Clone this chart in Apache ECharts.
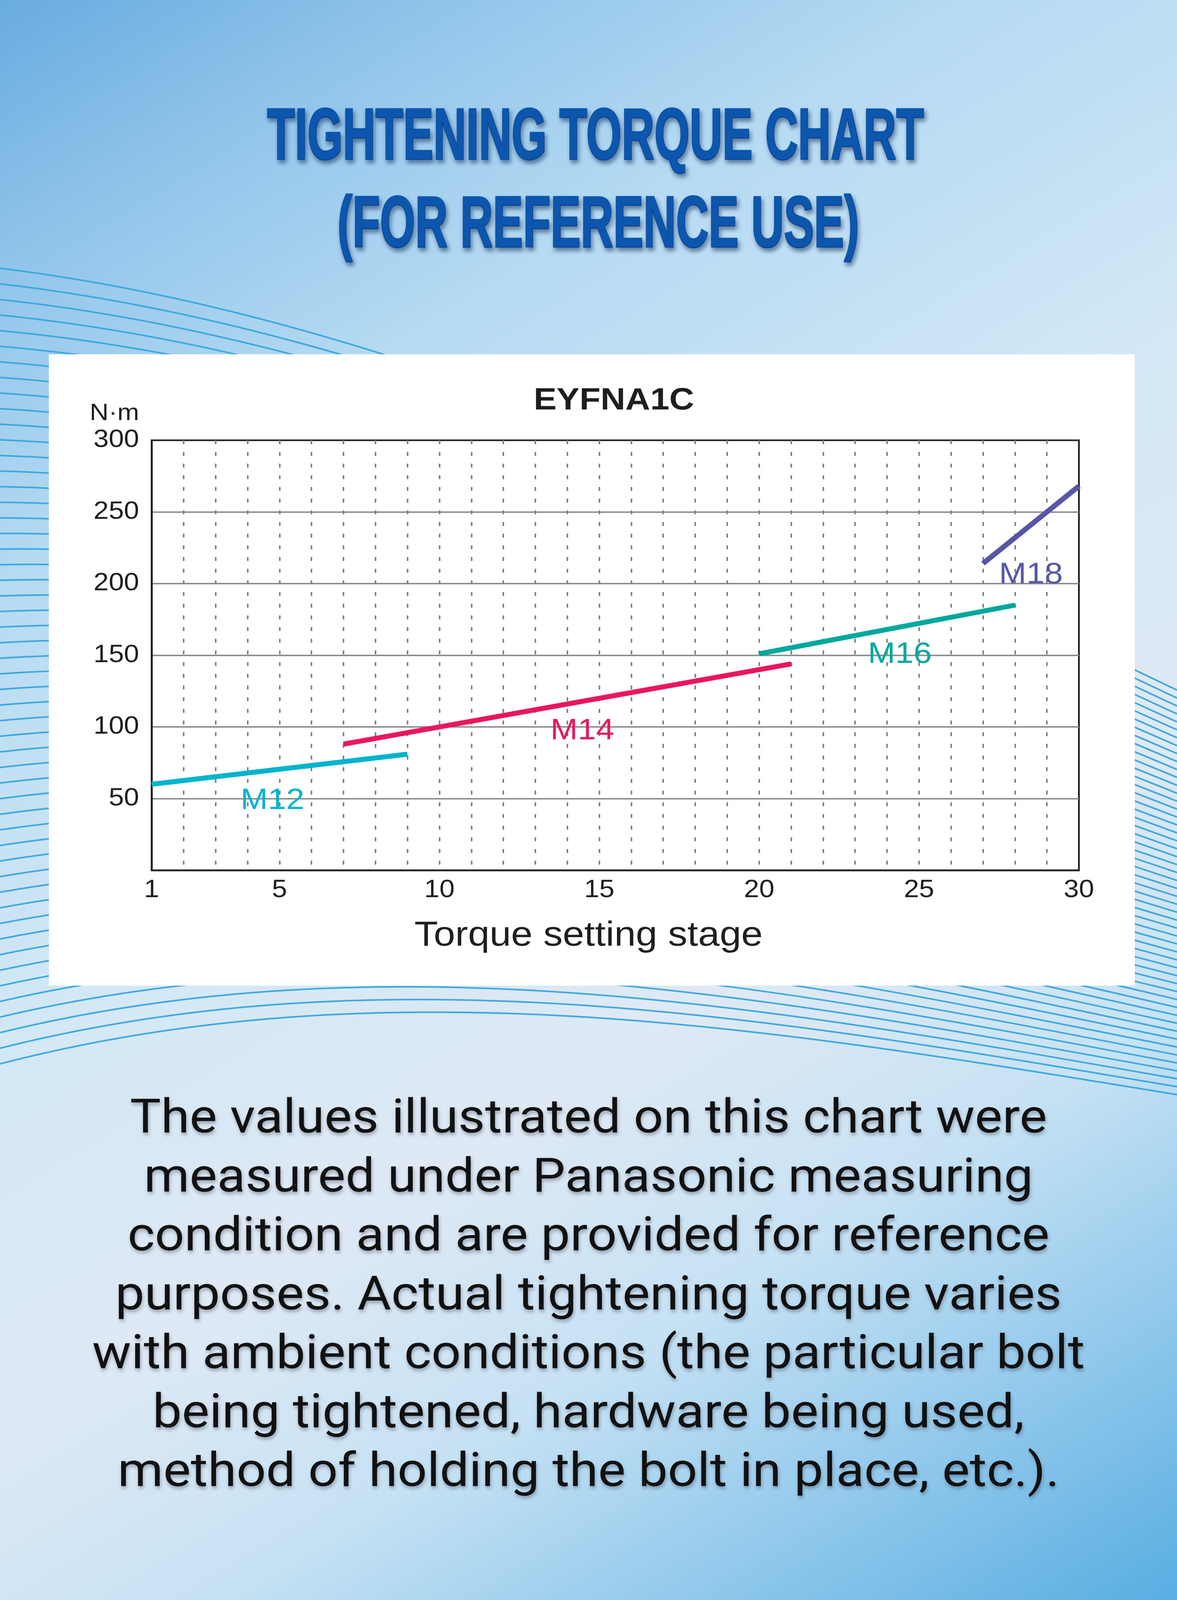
<!DOCTYPE html>
<html><head><meta charset="utf-8">
<script src="https://cdn.jsdelivr.net/npm/echarts@6/dist/echarts.min.js"></script>
<style>html,body{margin:0;padding:0;background:#fff;overflow:hidden;}#c{width:3012px;height:4521px;transform-origin:0 0;}</style>
</head><body><div id="c"></div>
<script>
// ---------- data ----------
const chartTitle = 'EYFNA1C';
const stageTickLabels = [1, 5, 10, 15, 20, 25, 30];
const torqueTickLabels = [50, 100, 150, 200, 250, 300];
const boltSizes = ['M12', 'M14', 'M16', 'M18'];
const m12 = [[1, 60], [9, 81]];
const m14 = [[7, 88], [21, 144]];
const m16 = [[20, 151], [28, 185]];
const m18 = [[27, 214], [30, 268]];
const labelAnchors = [[4.78, 48.4], [14.47, 97], [24.4, 150.4], [28.5, 206]];
const headline = ['TIGHTENING TORQUE CHART', '(FOR REFERENCE USE)'];
const note = [
  'The values illustrated on this chart were',
  'measured under Panasonic measuring',
  'condition and are provided for reference',
  'purposes. Actual tightening torque varies',
  'with ambient conditions (the particular bolt',
  'being tightened, hardware being used,',
  'method of holding the bolt in place, etc.).'
];

// ---------- styling ----------
const W = 3012, H = 4521;
// fit the whole 3012x4521 design into the real viewport
const box = document.getElementById('c');
const fx = (window.innerWidth || W) / W, fy = (window.innerHeight || H) / H;
if (Math.abs(fx - 1) > 0.001 || Math.abs(fy - 1) > 0.001) box.style.transform = 'scale(' + fx + ',' + fy + ')';

const colors = ['#00B4CC', '#E8175D', '#00A89C', '#5756A6'];
const seriesData = [m12, m14, m16, m18];
const AX = '"Liberation Sans", Arial, Helvetica, sans-serif';

const cv = document.createElement('canvas').getContext('2d');
function measure(txt, font) { cv.font = font; return cv.measureText(txt).width; }

const headFont = '"Liberation Sans Narrow", "Arial Narrow", "Liberation Sans", sans-serif';
const headSize = 204;
const w1 = measure(headline[0], 'bold ' + headSize + 'px ' + headFont);
const w2 = measure(headline[1], 'bold ' + headSize + 'px ' + headFont);
const sx1 = 1681 / w1, sx2 = 1335 / w2;

const noteFont = 'Roboto, "Noto Sans", sans-serif';
const noteW = measure(note[4], '400 120px ' + noteFont);
const noteSize = Math.round(120 * 2539 / noteW);

// background wave lines
const waves = [];
const NW = 52;
for (let i = 0; i < NW; i++) {
  const f = i / (NW - 1);
  waves.push({
    type: 'bezierCurve', silent: true, z: -20,
    shape: {
      x1: 0, y1: 758 + f * (3006 - 758),
      cpx1: 1000, cpy1: 893 + f * (2720 - 893),
      cpx2: 2000, cpy2: 1414 + f * (2911 - 1414),
      x2: W, y2: 1950 + f * (3093 - 1950)
    },
    style: { stroke: '#3BA8DD', lineWidth: 4.5, fill: null }
  });
}

const graphics = [
  { type: 'rect', z: -30, silent: true, shape: { x: 0, y: 0, width: W, height: H },
    style: { fill: { type: 'linear', x: 0, y: 0, x2: 1, y2: 1, colorStops: [
      { offset: 0, color: '#69ACE0' }, { offset: 0.12, color: '#92C5EB' },
      { offset: 0.25, color: '#B5DAF2' }, { offset: 0.45, color: '#D3E8F6' },
      { offset: 0.62, color: '#DFE9F5' }, { offset: 0.75, color: '#C6E2F4' },
      { offset: 0.87, color: '#92C9EC' }, { offset: 1, color: '#58AEE2' } ] } } },
  { type: 'rect', z: -15, silent: true, shape: { x: 125, y: 1001, width: 2779, height: 1784 },
    style: { fill: '#ffffff' } },
  { type: 'text', z: 10, x: 1524, y: 392.5, scaleX: sx1, silent: true,
    style: { text: headline[0], x: 0, y: 0, align: 'center', verticalAlign: 'middle',
      font: 'bold ' + headSize + 'px ' + headFont, fill: '#0C56AE', stroke: '#0C56AE', lineWidth: 5,
      textShadowColor: 'rgba(0,25,70,0.45)', textShadowBlur: 12, textShadowOffsetX: 4, textShadowOffsetY: 9 } },
  { type: 'text', z: 10, x: 1531, y: 641, scaleX: sx2, silent: true,
    style: { text: headline[1], x: 0, y: 0, align: 'center', verticalAlign: 'middle',
      font: 'bold ' + headSize + 'px ' + headFont, fill: '#0C56AE', stroke: '#0C56AE', lineWidth: 5,
      textShadowColor: 'rgba(0,25,70,0.45)', textShadowBlur: 12, textShadowOffsetX: 4, textShadowOffsetY: 9 } },
  { type: 'text', z: 10, silent: true,
    style: { text: chartTitle, x: 1571, y: 1133, align: 'center', verticalAlign: 'middle',
      font: 'bold 88px ' + AX, fill: '#1E1E1E' } },
  { type: 'text', z: 10, silent: true,
    style: { text: note.join('\n'), x: 1506, y: 3167 - 83.25, align: 'center', verticalAlign: 'top',
      font: '400 ' + noteSize + 'px ' + noteFont, lineHeight: 166.5, fill: '#111111',
      textShadowColor: 'rgba(40,40,60,0.35)', textShadowBlur: 10, textShadowOffsetX: 2, textShadowOffsetY: 7 } }
].concat(waves);

const chart = echarts.init(box, null, { renderer: 'canvas', width: W, height: H });

const series = boltSizes.map((name, k) => ({
  name: name, type: 'line', data: seriesData[k], symbol: 'none', z: 5,
  lineStyle: { color: colors[k], width: 14, cap: 'butt' },
  markPoint: {
    symbol: 'circle', symbolSize: 1, itemStyle: { color: 'rgba(0,0,0,0)' },
    label: { show: true, position: 'inside', formatter: name, color: colors[k],
      fontFamily: AX, fontSize: 84, fontWeight: 'normal' },
    data: [{ coord: labelAnchors[k], name: name }]
  }
}));

chart.setOption({
  animation: false,
  graphic: graphics,
  grid: { left: 388, right: W - 2761, top: 1244, bottom: H - 2459, show: true,
    borderColor: '#1E1E1E', borderWidth: 4.5, backgroundColor: 'transparent', outerBoundsMode: 'none' },
  xAxis: {
    type: 'value', min: 1, max: 30, interval: 1,
    name: 'Torque setting stage', nameLocation: 'middle', nameGap: 136,
    nameTextStyle: { fontFamily: AX, fontSize: 99, lineHeight: 99, color: '#1E1E1E', padding: [0, 137, 0, 0] },
    axisLine: { show: true, lineStyle: { color: '#1E1E1E', width: 4.5 } },
    axisTick: { show: false },
    axisLabel: { margin: 22, fontFamily: AX, fontSize: 70, lineHeight: 70, color: '#1E1E1E',
      formatter: v => (stageTickLabels.indexOf(v) >= 0 ? String(v) : ''), showMinLabel: true, showMaxLabel: true },
    splitLine: { show: true, showMinLine: false, showMaxLine: false,
      lineStyle: { color: '#808080', width: 4, type: [11, 22] } }
  },
  yAxis: {
    type: 'value', min: 0, max: 300, interval: 50,
    name: 'N·m', nameLocation: 'end', nameGap: 42,
    nameTextStyle: { fontFamily: AX, fontSize: 67, lineHeight: 67, color: '#1E1E1E', align: 'right', padding: [0, 32, 0, 0] },
    axisLine: { show: true, lineStyle: { color: '#1E1E1E', width: 4.5 } },
    axisTick: { show: false },
    axisLabel: { margin: 32, fontFamily: AX, fontSize: 70, color: '#1E1E1E',
      formatter: v => (torqueTickLabels.indexOf(v) >= 0 ? String(v) : '') },
    splitLine: { show: true, showMinLine: false, showMaxLine: false,
      lineStyle: { color: '#8A8A8A', width: 4, type: 'solid' } }
  },
  series: series
});
</script></body></html>
